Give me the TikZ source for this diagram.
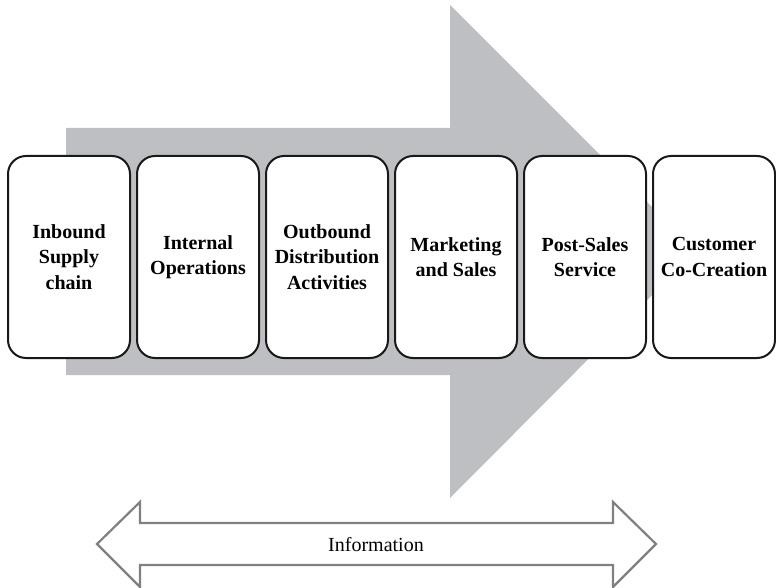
\documentclass[tikz,border=0pt]{standalone}
\usepackage{fontspec}
\setmainfont{Liberation Serif}
\definecolor{arrowgray}{RGB}{190,191,194}
\definecolor{outlinegray}{RGB}{128,128,128}
\begin{document}
\begin{tikzpicture}[x=1pt,y=-1pt,
  stage/.style={draw=black!90,line width=2pt,fill=white,rounded corners=18pt,
    minimum width=122pt,minimum height=202pt,align=center,inner sep=1pt,
    font=\fontsize{20}{25.5}\selectfont\bfseries},
  infolabel/.style={font=\fontsize{20}{24}\selectfont}]
\useasboundingbox (0,0) rectangle (776,588);
% big gray arrow
\fill[arrowgray] (66,128) -- (450,128) -- (450,5) -- (696,251) -- (450,498) -- (450,375) -- (66,375) -- cycle;
% stages
\node[stage] (s1) at (69,257) {Inbound\\Supply\\chain};
\node[stage] (s2) at (198,257) {Internal\\Operations};
\node[stage] (s3) at (327,257) {Outbound\\Distribution\\Activities};
\node[stage] (s4) at (456,257) {Marketing\\and Sales};
\node[stage] (s5) at (585,257) {Post-Sales\\Service};
\node[stage] (s6) at (714,257) {Customer\\Co-Creation};
% information double arrow
\draw[outlinegray,line width=2.2pt,fill=white,line join=miter]
  (97,544) -- (140,502) -- (140,523) -- (613,523) -- (613,502) -- (656,544)
  -- (613,587) -- (613,565) -- (140,565) -- (140,587) -- cycle;
\node[infolabel] (info) at (376,545) {Information};
\end{tikzpicture}
\end{document}
